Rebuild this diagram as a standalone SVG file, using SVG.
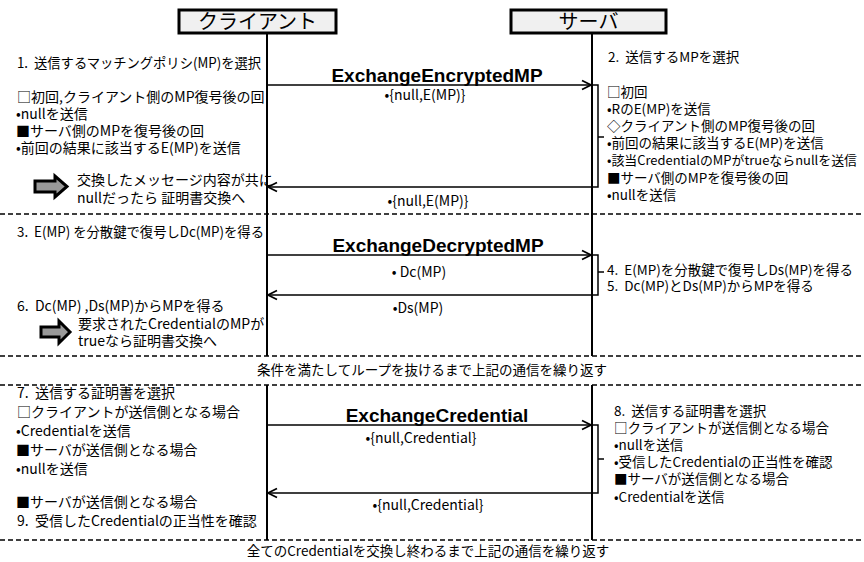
<svg xmlns="http://www.w3.org/2000/svg" width="864" height="562" viewBox="0 0 864 562">
<style>
text{font-family:"Noto Sans CJK JP","Liberation Sans",sans-serif;fill:#000}
.l{font-size:14px}
.s{font-size:13.5px}
.c{font-size:14px;text-anchor:middle}
.t{font-size:19px;font-weight:bold;text-anchor:middle;font-family:"Liberation Sans","Noto Sans CJK JP",sans-serif}
.h{font-size:20px;text-anchor:middle}
.life{stroke:#000;stroke-width:2;fill:none}
.dash{stroke:#000;stroke-width:1.5;stroke-dasharray:5 3;fill:none}
.msg{stroke:#000;stroke-width:1.5;fill:none}
.box{fill:#f0f0f0;stroke:#000;stroke-width:3}
.blk{fill:#999;stroke:#000;stroke-width:3;stroke-linejoin:miter}
</style>
<defs>
<marker id="ah" markerWidth="12" markerHeight="12" refX="10" refY="6" orient="auto" markerUnits="userSpaceOnUse">
<path d="M1,1.5 L10,6 L1,10.5" fill="none" stroke="#000" stroke-width="1.8"/>
</marker>
</defs>

<g id="separators">
<line class="dash" x1="0" y1="214" x2="864" y2="214"/>
<line class="dash" x1="0" y1="356" x2="864" y2="356"/>
<line class="dash" x1="0" y1="385" x2="864" y2="385"/>
<line class="dash" x1="0" y1="540" x2="864" y2="540"/>
</g>

<g id="lifelines">
<line class="life" x1="267" y1="33" x2="267" y2="356"/>
<line class="life" x1="267" y1="385" x2="267" y2="540"/>
<line class="life" x1="592" y1="33" x2="592" y2="356"/>
<line class="life" x1="592" y1="385" x2="592" y2="540"/>
</g>

<g id="client">
<rect class="box" x="179" y="10" width="157" height="23"/>
<text class="h" x="257.5" y="29">クライアント</text>
</g>
<g id="server">
<rect class="box" x="511" y="10" width="155" height="23"/>
<text class="h" x="588.5" y="29">サーバ</text>
</g>

<g id="connectors">
<line class="msg" x1="267" y1="85" x2="591" y2="85" marker-end="url(#ah)"/>
<path class="msg" d="M592,85 H598 V187 H268" marker-end="url(#ah)"/>
<line class="msg" x1="598" y1="137" x2="604" y2="137"/>
<line class="msg" x1="267" y1="255" x2="591" y2="255" marker-end="url(#ah)"/>
<path class="msg" d="M592,255 H598 V295 H268" marker-end="url(#ah)"/>
<line class="msg" x1="598" y1="272" x2="604" y2="272"/>
<line class="msg" x1="267" y1="425" x2="591" y2="425" marker-end="url(#ah)"/>
<path class="msg" d="M592,425 H598 V493 H268" marker-end="url(#ah)"/>
<line class="msg" x1="598" y1="459" x2="604" y2="459"/>
</g>

<g id="labels">
<text class="t" x="437" y="82">ExchangeEncryptedMP</text>
<text class="c" x="425" y="100">•{null,E(MP)}</text>
<text class="c" x="428" y="206">•{null,E(MP)}</text>
<text class="t" x="438" y="252">ExchangeDecryptedMP</text>
<text class="c" x="419" y="277">• Dc(MP)</text>
<text class="c" x="418" y="313">•Ds(MP)</text>
<text class="t" x="437" y="422">ExchangeCredential</text>
<text class="c" x="421" y="443">•{null,Credential}</text>
<text class="c" x="428" y="510">•{null,Credential}</text>
</g>

<g id="client-notes">
<text class="l" x="17" y="68" textLength="244" lengthAdjust="spacingAndGlyphs">1.&#160;&#160;送信するマッチングポリシ(MP)を選択</text>
<text class="l" x="17" y="102">□初回,クライアント側のMP復号後の回</text>
<text class="l" x="16" y="119">•nullを送信</text>
<text class="l" x="16" y="136">■サーバ側のMPを復号後の回</text>
<text class="l" x="16" y="153">•前回の結果に該当するE(MP)を送信</text>
<polygon class="blk" points="35,181 55,181 55,176 67,186.5 55,197 55,192 35,192"/>
<text class="l" x="77" y="185">交換したメッセージ内容が共に</text>
<text class="l" x="77" y="203">nullだったら 証明書交換へ</text>

<text class="l" x="17" y="237" textLength="247" lengthAdjust="spacingAndGlyphs">3.&#160;&#160;E(MP) を分散鍵で復号しDc(MP)を得る</text>
<text class="l" x="17" y="311">6.&#160;&#160;Dc(MP) ,Ds(MP)からMPを得る</text>
<polygon class="blk" points="41,327 59,327 59,321 70,332 59,343 59,337 41,337"/>
<text class="l" x="78" y="329">要求されたCredentialのMPが</text>
<text class="l" x="78" y="346">trueなら証明書交換へ</text>

<text class="l" x="17" y="398">7.&#160;&#160;送信する証明書を選択</text>
<text class="l" x="17" y="417">□クライアントが送信側となる場合</text>
<text class="l" x="16" y="436">•Credentialを送信</text>
<text class="l" x="16" y="455">■サーバが送信側となる場合</text>
<text class="l" x="16" y="474">•nullを送信</text>
<text class="l" x="16" y="507">■サーバが送信側となる場合</text>
<text class="l" x="17" y="526">9.&#160;&#160;受信したCredentialの正当性を確認</text>
</g>

<g id="server-notes">
<text class="s" x="608" y="62">2.&#160;&#160;送信するMPを選択</text>
<text class="s" x="607" y="97">□初回</text>
<text class="s" x="607" y="114">•RのE(MP)を送信</text>
<text class="s" x="607" y="131">◇クライアント側のMP復号後の回</text>
<text class="s" x="607" y="148">•前回の結果に該当するE(MP)を送信</text>
<text class="s" x="607" y="165" style="font-size:12.6px" textLength="250" lengthAdjust="spacingAndGlyphs">•該当CredentialのMPがtrueならnullを送信</text>
<text class="s" x="607" y="183">■サーバ側のMPを復号後の回</text>
<text class="s" x="607" y="200">•nullを送信</text>

<text class="s" x="607" y="275" textLength="246" lengthAdjust="spacingAndGlyphs">4.&#160;&#160;E(MP)を分散鍵で復号しDs(MP)を得る</text>
<text class="s" x="607" y="291">5.&#160;&#160;Dc(MP)とDs(MP)からMPを得る</text>

<text class="s" x="614" y="416">8.&#160;&#160;送信する証明書を選択</text>
<text class="s" x="614" y="433">□クライアントが送信側となる場合</text>
<text class="s" x="614" y="450">•nullを送信</text>
<text class="s" x="614" y="467">•受信したCredentialの正当性を確認</text>
<text class="s" x="614" y="484">■サーバが送信側となる場合</text>
<text class="s" x="614" y="502">•Credentialを送信</text>
</g>

<g id="loop-notes">
<text class="c" x="432" y="375" style="font-size:13.5px">条件を満たしてループを抜けるまで上記の通信を繰り返す</text>
<text class="c" x="428" y="556" style="font-size:13.5px">全てのCredentialを交換し終わるまで上記の通信を繰り返す</text>
</g>
</svg>
